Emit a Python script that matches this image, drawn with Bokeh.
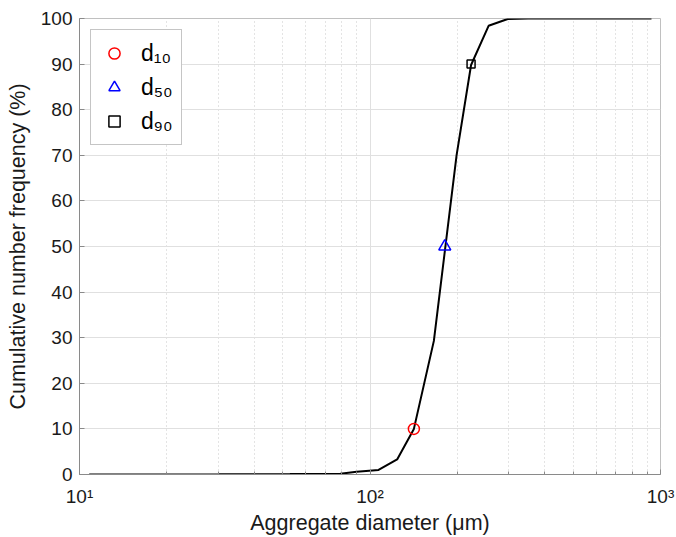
from bokeh.plotting import figure
from bokeh.models import Range1d, Legend, LegendItem, SingleIntervalTicker, FixedTicker
from bokeh.embed import file_html
from bokeh.resources import INLINE

# Cumulative number frequency curve
diameter = [10.8, 30, 53, 79, 90, 107, 124, 141.6, 165.9, 198.6, 222.8, 256, 298, 350, 500, 700, 931]
cum_freq = [0.0, 0.05, 0.1, 0.15, 0.6, 1.0, 3.3, 10.0, 29.3, 70.0, 89.8, 98.4, 99.9, 100, 100, 100, 100]

# Characteristic diameters
d10 = [141.6]
d50 = [180.9]
d90 = [222.8]
p10 = [10]
p50 = [50]
p90 = [90]

x_major = [10, 100, 1000]
x_minor = [20, 30, 40, 50, 60, 70, 80, 90, 200, 300, 400, 500, 600, 700, 800, 900]
x_ticks = {10: "10\u00b9", 100: "10\u00b2", 1000: "10\u00b3"}
legend_labels = ["d\u2081\u2080", "d\u2085\u2080", "d\u2089\u2080"]

FONT = "Liberation Sans"

p = figure(width=676, height=537, x_axis_type="log",
           x_range=Range1d(10, 1000), y_range=Range1d(0, 100),
           output_backend="svg", toolbar_location=None,
           min_border_left=79, min_border_right=16, min_border_top=18, min_border_bottom=63,
           background_fill_color="white", border_fill_color="white")

p.line(diameter, cum_freq, line_color="black", line_width=2)
r10 = p.scatter(d10, p10, marker="circle", size=11, fill_color=None, line_color="#ff0000", line_width=1.5)
r50 = p.scatter(d50, p50, marker="triangle", size=12, fill_color=None, line_color="#0000ff", line_width=1.5)
r90 = p.scatter(d90, p90, marker="square", size=8, fill_color=None, line_color="black", line_width=1.5)

# axes
p.yaxis.ticker = SingleIntervalTicker(interval=10)
p.xaxis.ticker = FixedTicker(ticks=x_major, minor_ticks=x_minor)
p.xaxis.major_label_overrides = x_ticks
for ax in (p.xaxis, p.yaxis):
    ax.axis_line_color = "#8a8a8a"
    ax.major_tick_line_color = "#8a8a8a"
    ax.minor_tick_line_color = "#8a8a8a"
    ax.major_tick_out = 0
    ax.major_tick_in = 5
    ax.minor_tick_out = 0
    ax.minor_tick_in = 3
    ax.major_label_text_font = FONT
    ax.major_label_text_font_size = "19px"
    ax.major_label_text_color = "#1a1a1a"
    ax.axis_label_text_font = FONT
    ax.axis_label_text_font_size = "21.5px"
    ax.axis_label_text_font_style = "normal"
    ax.axis_label_text_color = "#1a1a1a"
p.yaxis.minor_tick_line_color = None
p.xaxis.major_label_standoff = 11
p.yaxis.major_label_standoff = 7
p.xaxis.axis_label = "Aggregate diameter (\u03bcm)"
p.yaxis.axis_label = "Cumulative number frequency (%)"
p.xaxis.axis_label_standoff = 1
p.yaxis.axis_label_standoff = 8

# grid
p.xgrid.grid_line_color = "#e0e0e0"
p.ygrid.grid_line_color = "#e0e0e0"
p.xgrid.minor_grid_line_color = "#c8c8c8"
p.xgrid.minor_grid_line_dash = "1 3"
p.ygrid.minor_grid_line_color = None

p.outline_line_color = "#c0c0c0"
p.outline_line_width = 1

legend = Legend(items=[LegendItem(label=legend_labels[0], renderers=[r10]),
                       LegendItem(label=legend_labels[1], renderers=[r50]),
                       LegendItem(label=legend_labels[2], renderers=[r90])],
                location="top_left", margin=11, padding=8, spacing=4,
                glyph_width=30, glyph_height=28, label_height=30, label_standoff=12,
                label_text_font=FONT, label_text_font_size="23px", label_text_color="black",
                border_line_color="#8c8c8c", border_line_width=1,
                background_fill_color="white", background_fill_alpha=1)
p.add_layout(legend)

open("out.html", "w").write(file_html(p, INLINE))
